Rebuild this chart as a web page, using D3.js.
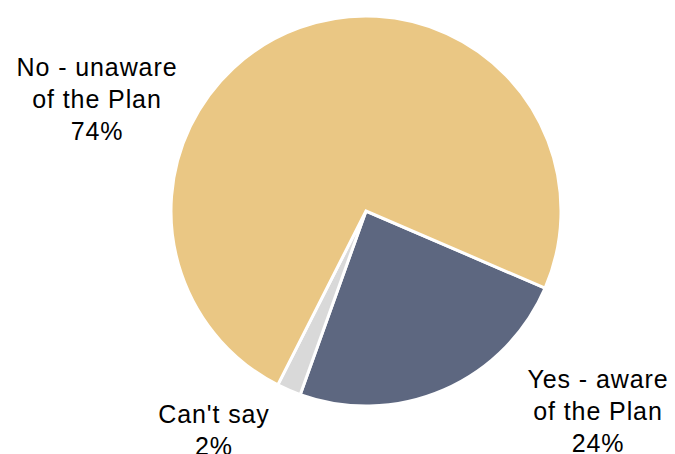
<!DOCTYPE html>
<html>
<head>
<meta charset="utf-8">
<script src="https://cdn.jsdelivr.net/npm/d3@7"></script>
<style>
  html, body { margin: 0; padding: 0; background: #fff; }
  svg { display: block; }
  text { font-family: "Liberation Sans", Arial, Helvetica, sans-serif; font-size: 25px; letter-spacing: 0.9px; fill: #000; }
</style>
</head>
<body>
<svg id="chart" width="675" height="454"></svg>
<script>
// Awareness of the Plan — share of respondents
const categories = ["Yes - aware of the Plan", "Can't say", "No - unaware of the Plan"];
const values = [24, 2, 74];
const labelLines = [["Yes - aware", "of the Plan", "24%"], ["Can't say", "2%"], ["No - unaware", "of the Plan", "74%"]];
const colors = ["#5d6780", "#d9d9d9", "#eac784"];

const svg = d3.select("#chart");
const cx = 366, cy = 211, r = 195;

const start = 113.3 * Math.PI / 180;
const pie = d3.pie().sort(null).value(d => d)
  .startAngle(start).endAngle(start + 2 * Math.PI);
const arcs = pie(values);
const arc = d3.arc().innerRadius(0).outerRadius(r);

const g = svg.append("g").attr("transform", `translate(${cx},${cy})`);
g.selectAll("path").data(arcs).join("path")
  .attr("d", arc)
  .attr("fill", (d, i) => colors[i])
  .attr("stroke", "#fff")
  .attr("stroke-width", 3)
  .attr("stroke-linejoin", "miter");

// Label anchor positions (centre of first line's baseline)
const labelPos = [[598, 388], [214, 423], [97, 76]];
const lineH = 32;
labelLines.forEach((lines, i) => {
  const t = svg.append("text").attr("text-anchor", "middle");
  lines.forEach((s, j) => {
    t.append("tspan").attr("x", labelPos[i][0]).attr("y", labelPos[i][1] + j * lineH).text(s);
  });
});
</script>
</body>
</html>
